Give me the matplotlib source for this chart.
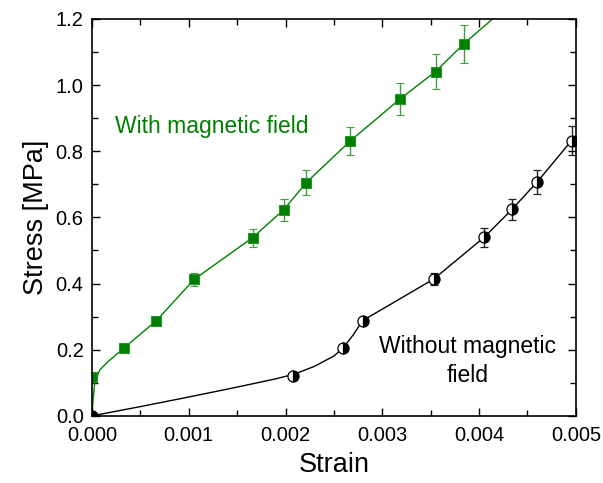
import matplotlib
matplotlib.use('Agg')
import matplotlib.pyplot as plt
from matplotlib.ticker import MultipleLocator

plt.rcParams['font.family'] = ['Liberation Sans', 'DejaVu Sans']

# with magnetic field (green squares)
strain_mag = [0.0, 0.00033, 0.000666, 0.001057, 0.00166, 0.00198, 0.002214,
              0.002668, 0.003179, 0.00355, 0.003843]
stress_mag = [0.119, 0.205, 0.288, 0.413, 0.539, 0.623, 0.705,
              0.831, 0.957, 1.041, 1.125]
err_mag = [0.012, 0.006, 0.008, 0.02, 0.027, 0.033, 0.037,
           0.042, 0.048, 0.053, 0.057]
# fitted curve
fit_mag_x = [0.0, 0.0000103, 0.0000279, 0.0000795, 0.000165, 0.00033,
             0.000666, 0.001057, 0.00166, 0.00198, 0.002214, 0.002668,
             0.003179, 0.00355, 0.003843, 0.00414]
fit_mag_y = [0.0, 0.048, 0.099, 0.139, 0.164, 0.205,
             0.288, 0.413, 0.539, 0.623, 0.705, 0.831,
             0.957, 1.041, 1.125, 1.2]

# without magnetic field (half filled circles)
strain_nomag = [0.0, 0.00208, 0.002596, 0.002796, 0.003533, 0.004053,
                0.004339, 0.0046, 0.004955]
stress_nomag = [0.0, 0.121, 0.206, 0.288, 0.414, 0.540, 0.624, 0.707, 0.832]
err_nomag = [0.0, 0.005, 0.006, 0.006, 0.019, 0.028, 0.031, 0.036, 0.043]
fit_nomag_x = [0.0, 0.0005, 0.001, 0.0015, 0.0019, 0.0021, 0.0023,
               0.0025, 0.002596, 0.0027, 0.002796, 0.003078, 0.003533,
               0.004053, 0.004339, 0.0046, 0.004955, 0.005]
fit_nomag_y = [0.0, 0.028, 0.057, 0.087, 0.112, 0.127, 0.150,
               0.181, 0.206, 0.245, 0.288, 0.336, 0.414,
               0.540, 0.624, 0.707, 0.832, 0.845]

green = '#008000'

fig = plt.figure(figsize=(6.03, 4.83), dpi=100)
ax = fig.add_axes([0.1526, 0.139, 0.8024, 0.8218])

ax.plot(fit_mag_x, fit_mag_y, color=green, lw=1.0)
ax.errorbar(strain_mag, stress_mag, yerr=err_mag, fmt='s', color=green,
            ecolor='#3f9f3f', elinewidth=1.0, capsize=3, markersize=7.5,
            markeredgecolor='#2e8f2e', markeredgewidth=0.8)

ax.plot(fit_nomag_x, fit_nomag_y, color='black', lw=1.0)
ax.errorbar(strain_nomag, stress_nomag, yerr=err_nomag, fmt='o', color='black',
            ecolor='#222222', elinewidth=1.0, capsize=3, markersize=8,
            fillstyle='right', markerfacecolor='black',
            markerfacecoloralt='white', markeredgecolor='black',
            markeredgewidth=0.9)

ax.text(0.000238, 0.874, 'With magnetic field', color=green, fontsize=16.5,
        ha='left', va='center')
ax.text(0.003884, 0.166, 'Without magnetic\nfield', color='black',
        fontsize=16.5, ha='center', va='center', multialignment='center',
        linespacing=1.3)

ax.set_xlim(0, 0.005)
ax.set_ylim(0, 1.2)
ax.xaxis.set_major_locator(MultipleLocator(0.001))
ax.xaxis.set_minor_locator(MultipleLocator(0.0005))
ax.yaxis.set_major_locator(MultipleLocator(0.2))
ax.yaxis.set_minor_locator(MultipleLocator(0.1))
ax.xaxis.set_major_formatter(plt.FormatStrFormatter('%.3f'))
ax.yaxis.set_major_formatter(plt.FormatStrFormatter('%.1f'))
ax.tick_params(which='both', direction='in', top=True, right=True,
               labelsize=14.5, width=1.0)
ax.tick_params(which='major', length=6)
ax.tick_params(which='minor', length=4)
ax.tick_params(axis='x', which='major', pad=7)
ax.tick_params(axis='y', which='major', pad=6)
for s in ax.spines.values():
    s.set_linewidth(1.2)

ax.set_xlabel('Strain', fontsize=19.5, labelpad=5)
ax.set_ylabel('Stress [MPa]', fontsize=19.5, labelpad=5)

fig.savefig('out.png', dpi=100)
